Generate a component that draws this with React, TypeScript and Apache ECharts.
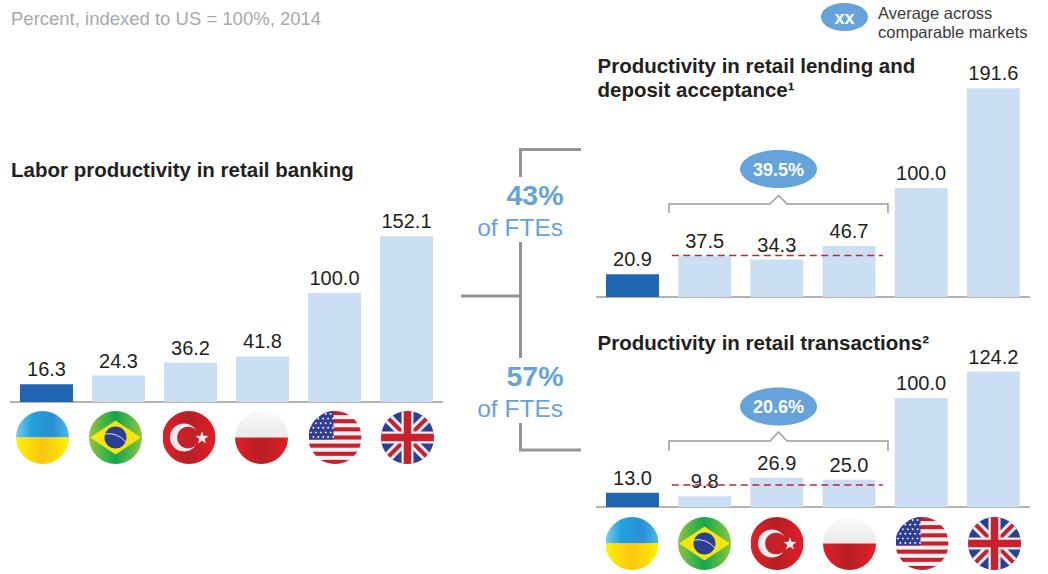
import React, { useEffect, useRef } from "react";
import * as echarts from "echarts";

const countries = ["Ukraine", "Brazil", "Turkey", "Poland", "US", "UK"];
const laborValues = [16.3, 24.3, 36.2, 41.8, 100.0, 152.1];
const lendingValues = [20.9, 37.5, 34.3, 46.7, 100.0, 191.6];
const transactionValues = [13.0, 9.8, 26.9, 25.0, 100.0, 124.2];
const lendingAverageLine = [[1, 38, 3]];
const transactionAverageLine = [[1, 20.2, 3]];

const FONT = "'Liberation Sans', Arial, sans-serif";
const DARK = "#231f20";
const BLUE = "#66a3da";
const BAR_DARK = "#2066b3";
const BAR_LIGHT = "#cadff3";
const GREY = "#939598";

const flagDefs = `<defs><clipPath id="c"><circle cx="26.5" cy="26.5" r="26.5"/></clipPath>
<linearGradient id="g1"><stop offset="0" stop-color="#7ccbf0"/><stop offset=".3" stop-color="#1fa2dc"/><stop offset=".7" stop-color="#2b8fd2"/><stop offset="1" stop-color="#4fb8ea"/></linearGradient>
<linearGradient id="y1"><stop offset="0" stop-color="#fff200"/><stop offset=".5" stop-color="#fcc40f"/><stop offset="1" stop-color="#fff200"/></linearGradient>
<linearGradient id="gr"><stop offset="0" stop-color="#8dc63f"/><stop offset=".5" stop-color="#12a650"/><stop offset="1" stop-color="#8dc63f"/></linearGradient>
<linearGradient id="rd"><stop offset="0" stop-color="#e21f26"/><stop offset=".5" stop-color="#b51f25"/><stop offset="1" stop-color="#e31e26"/></linearGradient>
<linearGradient id="wh" x2="0" y2="1"><stop offset="0" stop-color="#fafafa"/><stop offset="1" stop-color="#e9eaea"/></linearGradient>
</defs>`;

function star(cx: number, cy: number, r: number) {
  const pts: string[] = [];
  for (let i = 0; i < 10; i++) {
    const rr = i % 2 ? r * 0.42 : r;
    const a = -Math.PI / 2 + (i * Math.PI) / 5;
    pts.push(`${(cx + rr * Math.cos(a)).toFixed(2)},${(cy + rr * Math.sin(a)).toFixed(2)}`);
  }
  return `<polygon points="${pts.join(" ")}" fill="#fff"/>`;
}

function usBody() {
  let s = `<rect width="53" height="53" fill="#f1f1f1"/>`;
  for (let i = 0; i < 7; i++) {
    s += `<rect y="${i * 8.15}" width="53" height="4.1" fill="#c8202c"/>`;
  }
  s += `<rect width="25" height="28.5" fill="#2e3f93"/>`;
  for (let r = 0; r < 6; r++) {
    for (let c = 0; c < 5; c++) {
      s += star(2.5 + c * 4.9 + (r % 2 ? 2.4 : 0), 3 + r * 4.6, 1.5);
    }
  }
  return s;
}

const flagBodies: Record<string, string> = {
  Ukraine: `<rect width="53" height="26.5" fill="url(#g1)"/><rect y="26.5" width="53" height="26.5" fill="url(#y1)"/>`,
  Brazil: `<rect width="53" height="53" fill="url(#gr)"/><polygon points="1,26.5 26.5,9.5 52,26.5 26.5,43.5" fill="#f8e50f"/><circle cx="26.5" cy="26.5" r="11" fill="#2b3f97"/><path d="M16 23 Q28 21 37 31" fill="none" stroke="#dfe6f2" stroke-width="1"/>`,
  Turkey: `<rect width="53" height="53" fill="url(#rd)"/><circle cx="21.5" cy="26.5" r="14" fill="#ececec"/><circle cx="25.5" cy="26.5" r="10.8" fill="#c8202a"/>${star(39.5, 27, 6.8).replace("#fff", "#ececec")}`,
  Poland: `<rect width="53" height="26.5" fill="url(#wh)"/><rect y="26.5" width="53" height="26.5" fill="url(#rd)"/>`,
  US: usBody(),
  UK: `<rect width="53" height="53" fill="#2b3f97"/><path d="M2 2 L51 51 M51 2 L2 51" stroke="#f0f0f0" stroke-width="10"/><path d="M2 2 L51 51 M51 2 L2 51" stroke="#c8202c" stroke-width="4"/><path d="M26.5 0V53M0 26.5H53" stroke="#f0f0f0" stroke-width="12"/><path d="M26.5 0V53M0 26.5H53" stroke="#c8202c" stroke-width="7.5"/>`,
};

function flagUri(name: string) {
  const svg = `<svg xmlns="http://www.w3.org/2000/svg" width="53" height="53" viewBox="0 0 53 53">${flagDefs}<g clip-path="url(#c)">${flagBodies[name]}</g></svg>`;
  return "data:image/svg+xml;charset=utf-8," + encodeURIComponent(svg);
}

const flagRows = [
  { cy: 437.5, cx: [42.5, 115.5, 189, 261.5, 335, 407.5] },
  { cy: 543.5, cx: [632, 704.5, 777, 849.5, 922, 994.5] },
];

function flagImages() {
  const out: any[] = [];
  flagRows.forEach((row) =>
    row.cx.forEach((cx, i) =>
      out.push({
        type: "image",
        x: cx - 26.5,
        y: row.cy - 26.5,
        style: { image: flagUri(countries[i]), x: 0, y: 0, width: 53, height: 53 },
      })
    )
  );
  return out;
}

function txt(text: string, x: number, y: number, size: number, fill: string, weight = "normal", align = "left") {
  return {
    type: "text",
    x,
    y,
    style: { text, fill, fontFamily: FONT, fontSize: size, fontWeight: weight, textAlign: align, textVerticalAlign: "middle" },
  };
}

function line(points: number[][], color: string, width: number) {
  return {
    type: "polyline",
    shape: { points },
    style: { stroke: color, lineWidth: width, fill: "none" },
  };
}

function bubble(cx: number, cy: number, rx: number, ry: number, label: string) {
  return [
    { type: "ellipse", shape: { cx, cy, rx, ry }, style: { fill: BLUE } },
    txt(label, cx, cy + 0.5, 18, "#ffffff", "bold", "center"),
  ];
}

function bracket(left: number, right: number, mid: number, yFoot: number, yBar: number, yPeak: number) {
  return line(
    [[left, yFoot], [left, yBar], [mid - 8.5, yBar], [mid, yPeak], [mid + 8.5, yBar], [right, yBar], [right, yFoot]],
    "#9a9a9a",
    1.5
  );
}

function barSeries(values: number[], gridIndex: number) {
  return {
    type: "bar",
    xAxisIndex: gridIndex,
    yAxisIndex: gridIndex,
    barWidth: 53,
    data: values.map((v, i) => ({ value: v, itemStyle: { color: i === 0 ? BAR_DARK : BAR_LIGHT } })),
    label: {
      show: true,
      position: "top",
      distance: 5,
      formatter: (p: any) => Number(p.value).toFixed(1),
      color: DARK,
      fontFamily: FONT,
      fontSize: 20,
    },
  };
}

function averageSeries(data: number[][], gridIndex: number) {
  return {
    type: "custom",
    xAxisIndex: gridIndex,
    yAxisIndex: gridIndex,
    z: 3,
    clip: false,
    silent: true,
    encode: { x: [0, 2], y: 1 },
    data,
    renderItem: (_: any, api: any) => {
      const a = api.coord([api.value(0), api.value(1)]);
      const b = api.coord([api.value(2), api.value(1)]);
      const band = api.size([1, 0])[0];
      return {
        type: "line",
        shape: { x1: a[0] - band * 0.455, y1: a[1], x2: b[0] + band * 0.47, y2: b[1] },
        style: { stroke: "#b7282f", lineWidth: 1.5, lineDash: [7, 4.5], fill: "none" },
      };
    },
  };
}

const grids = [
  { left: 10.5, top: 184, width: 432, height: 218 },
  { left: 596.4, top: 79, width: 433, height: 218 },
  { left: 596.4, top: 289, width: 433, height: 218 },
];

const option: any = {
  animation: false,
  backgroundColor: "#ffffff",
  grid: grids,
  xAxis: grids.map((_, i) => ({
    type: "category",
    gridIndex: i,
    data: countries,
    axisTick: { show: false },
    axisLabel: { show: false },
    axisLine: { show: true, lineStyle: { color: "#9a9a9a", width: 1.5 } },
    splitLine: { show: false },
  })),
  yAxis: grids.map((_, i) => ({
    type: "value",
    gridIndex: i,
    min: 0,
    max: 200,
    show: false,
    splitLine: { show: false },
  })),
  series: [
    barSeries(laborValues, 0),
    barSeries(lendingValues, 1),
    barSeries(transactionValues, 2),
    averageSeries(lendingAverageLine, 1),
    averageSeries(transactionAverageLine, 2),
  ],
  graphic: [
    txt("Percent, indexed to US = 100%, 2014", 11, 18, 18.5, "#a7a9ac"),
    ...bubble(844.5, 17, 23.5, 14, "xx"),
    txt("Average across", 878, 13, 16.5, "#3a3a3a"),
    txt("comparable markets", 878, 32, 16.5, "#3a3a3a"),
    txt("Labor productivity in retail banking", 11, 169.5, 20.5, DARK, "bold"),
    txt("Productivity in retail lending and", 597.5, 65, 20.5, DARK, "bold"),
    txt("deposit acceptance\u00b9", 597.5, 89, 20.5, DARK, "bold"),
    txt("Productivity in retail transactions\u00b2", 597.5, 342, 20.5, DARK, "bold"),
    line([[581, 149.5], [520.5, 149.5], [520.5, 177]], GREY, 3),
    line([[520.5, 242], [520.5, 358]], GREY, 3),
    line([[461, 296], [520.5, 296]], GREY, 3),
    line([[520.5, 423], [520.5, 450], [581, 450]], GREY, 3),
    txt("43%", 563.5, 195, 28.5, BLUE, "bold", "right"),
    txt("of FTEs", 563, 227, 24.5, BLUE, "normal", "right"),
    txt("57%", 563.5, 375.5, 28.5, BLUE, "bold", "right"),
    txt("of FTEs", 563, 408, 24.5, BLUE, "normal", "right"),
    bracket(669, 888, 778.5, 213, 204, 195.5),
    ...bubble(778.5, 169, 38.5, 19, "39.5%"),
    bracket(669, 888, 778.5, 451, 441, 432),
    ...bubble(778.5, 406.5, 38.5, 19, "20.6%"),
    ...flagImages(),
  ],
};

export default function App() {
  const ref = useRef<HTMLDivElement>(null);
  useEffect(() => {
    if (!ref.current) return;
    const chart = echarts.init(ref.current, undefined, { renderer: "svg" });
    chart.setOption(option);
    return () => chart.dispose();
  }, []);
  return <div ref={ref} style={{ position: "absolute", left: 0, top: 0, width: 1048, height: 574 }} />;
}
